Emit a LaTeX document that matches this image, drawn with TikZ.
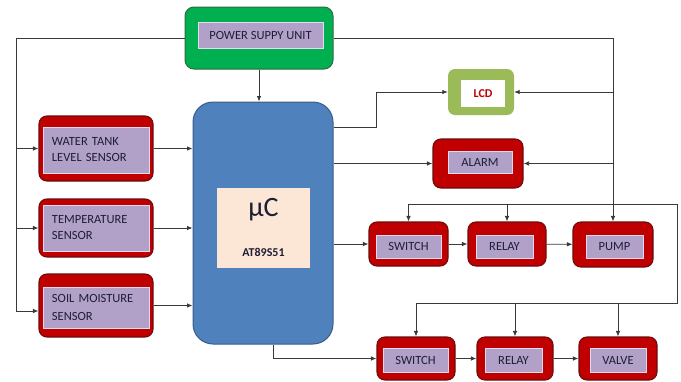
\documentclass[tikz,border=0pt]{standalone}
\usepackage{fontspec}
\setmainfont{Carlito}
\usetikzlibrary{arrows.meta,positioning,calc}
\definecolor{blockred}{HTML}{C00000}
\definecolor{blockedge}{HTML}{6E0B0B}
\definecolor{lavender}{HTML}{B1A0C7}
\definecolor{lavedge}{HTML}{E4DCEE}
\definecolor{psu}{HTML}{00B050}
\definecolor{psuedge}{HTML}{2D6B3C}
\definecolor{mcu}{HTML}{4F81BD}
\definecolor{mcuedge}{HTML}{385D8A}
\definecolor{peach}{HTML}{FCE6D6}
\definecolor{lcdgreen}{HTML}{9BBB59}
\definecolor{ink}{HTML}{1E1E36}
\definecolor{wire}{HTML}{3A3A3A}

\begin{document}
\begin{tikzpicture}[x=1pt,y=-1pt,
  font=\fontsize{12.5}{16}\selectfont,
  outer/.style 2 args={draw=blockedge,line width=1.1pt,fill=blockred,rounded corners=8pt,
    minimum width=#1,minimum height=#2,inner sep=0pt},
  inner/.style 2 args={draw=lavedge,line width=0.8pt,fill=lavender,text=ink,
    minimum width=#1,minimum height=#2,inner sep=0pt},
  sensor/.style={align=left,text width=88pt},
  wire/.style={draw=wire,line width=0.8pt},
  arr/.style={wire,-{Latex[length=5.5pt,width=4.5pt]}}]
  \useasboundingbox (0,0) rectangle (681,381);

  % power supply and controller
  \node[draw=psuedge,line width=1pt,fill=psu,rounded corners=9pt,minimum width=148pt,minimum height=62pt] (power) at (259,38) {};
  \node[inner={125pt}{26pt}] (power-l) at (260.5,35) {POWER SUPPY UNIT};
  \node[draw=mcuedge,line width=1pt,fill=mcu,rounded corners=20pt,minimum width=140pt,minimum height=242pt] (mc) at (263,223) {};
  \node[fill=peach,minimum width=93pt,minimum height=80pt,inner sep=0pt] (mc-l) at (263.5,228) {};
  \node[text=ink,font=\fontsize{28}{30}\selectfont] (mc-mu) at (263.5,210) {µC};
  \node[text=ink,font=\fontsize{12}{14}\selectfont\bfseries] (mc-chip) at (263.5,252) {AT89S51};

  % sensors
  \node[outer={114pt}{65pt}] (water) at (96,148.5) {};
  \node[inner={106pt}{46pt},sensor] (water-l) at (96,150) {WATER TANK\\LEVEL SENSOR};
  \node[outer={114pt}{58pt}] (temp) at (96,228) {};
  \node[inner={106pt}{46pt},sensor] (temp-l) at (96,228) {TEMPERATURE\\SENSOR};
  \node[outer={114pt}{63pt}] (soil) at (96,305.5) {};
  \node[inner={106pt}{41pt},sensor,font=\fontsize{12.5}{18}\selectfont] (soil-l) at (96,307.5) {SOIL MOISTURE\\SENSOR};

  % outputs
  \node[fill=lcdgreen,rounded corners=7pt,minimum width=66pt,minimum height=46pt] (lcd) at (481,92) {};
  \node[fill=white,minimum width=44pt,minimum height=27pt,inner sep=0pt,text=blockred,
    font=\fontsize{12}{14}\selectfont\bfseries] (lcd-l) at (483,93.5) {LCD};
  \node[outer={90pt}{49pt}] (alarm) at (478,163.5) {};
  \node[inner={64pt}{22pt}] (alarm-l) at (480,162) {ALARM};

  \node[outer={79pt}{44pt}] (sw1) at (408.5,244) {};
  \node[inner={65pt}{23pt}] (sw1-l) at (408.5,246.5) {SWITCH};
  \node[outer={78pt}{44pt}] (rl1) at (507,244) {};
  \node[inner={57pt}{23pt}] (rl1-l) at (504.5,246.5) {RELAY};
  \node[outer={80pt}{45pt}] (pump) at (613,244.5) {};
  \node[inner={57pt}{23pt}] (pump-l) at (614.5,246.5) {PUMP};

  \node[outer={78pt}{43pt}] (sw2) at (416,358.5) {};
  \node[inner={65pt}{24pt}] (sw2-l) at (415.5,360) {SWITCH};
  \node[outer={76pt}{43pt}] (rl2) at (515,358.5) {};
  \node[inner={57pt}{24pt}] (rl2-l) at (513.5,360) {RELAY};
  \node[outer={78pt}{43pt}] (valve) at (618,358.5) {};
  \node[inner={56pt}{24pt}] (valve-l) at (618,360) {VALVE};

  % supply lines
  \coordinate (lb) at (16,311);
  \draw[wire] (power.west) -| (lb);
  \draw[arr] (lb |- water) -- (water);
  \draw[arr] (lb |- temp) -- (temp);
  \draw[arr] (lb) -- (lb -| soil.west);
  \draw[arr] (power) -- (power |- mc.north);
  \draw[arr] (power.east) -| (pump.north);
  \draw[arr] (pump.north |- lcd) -- (lcd);
  \draw[arr] (pump.north |- alarm) -- (alarm);

  % sensor inputs
  \draw[arr] (water) -- (water -| mc.west);
  \draw[arr] (temp) -- (temp -| mc.west);
  \draw[arr] (soil) -- (soil -| mc.west);

  % controller outputs
  \coordinate (m1) at (mc.east |- 0,127);
  \coordinate (bend) at (376,127);
  \draw[arr] (m1) -- (bend) |- (lcd);
  \draw[arr] (mc.east |- alarm) -- (alarm);
  \draw[arr] (mc.east |- sw1) -- (sw1);
  \draw[arr] (sw1) -- (rl1);
  \draw[arr] (rl1) -- (pump);
  \draw[arr] ([xshift=10pt]mc.south) |- (sw2);
  \draw[arr] (sw2) -- (rl2);
  \draw[arr] (rl2) -- (valve);

  % relay feed loop
  \coordinate (d1) at (677,204);
  \coordinate (d2) at (677,303);
  \draw[wire] (sw1.north |- d1) -- (d1) -- (d2) -- (sw2.north |- d2);
  \draw[arr] (sw1.north |- d1) -- (sw1);
  \draw[arr] (rl1.north |- d1) -- (rl1);
  \draw[arr] (sw2.north |- d2) -- (sw2);
  \draw[arr] (rl2.north |- d2) -- (rl2);
  \draw[arr] (valve.north |- d2) -- (valve);
\end{tikzpicture}
\end{document}
